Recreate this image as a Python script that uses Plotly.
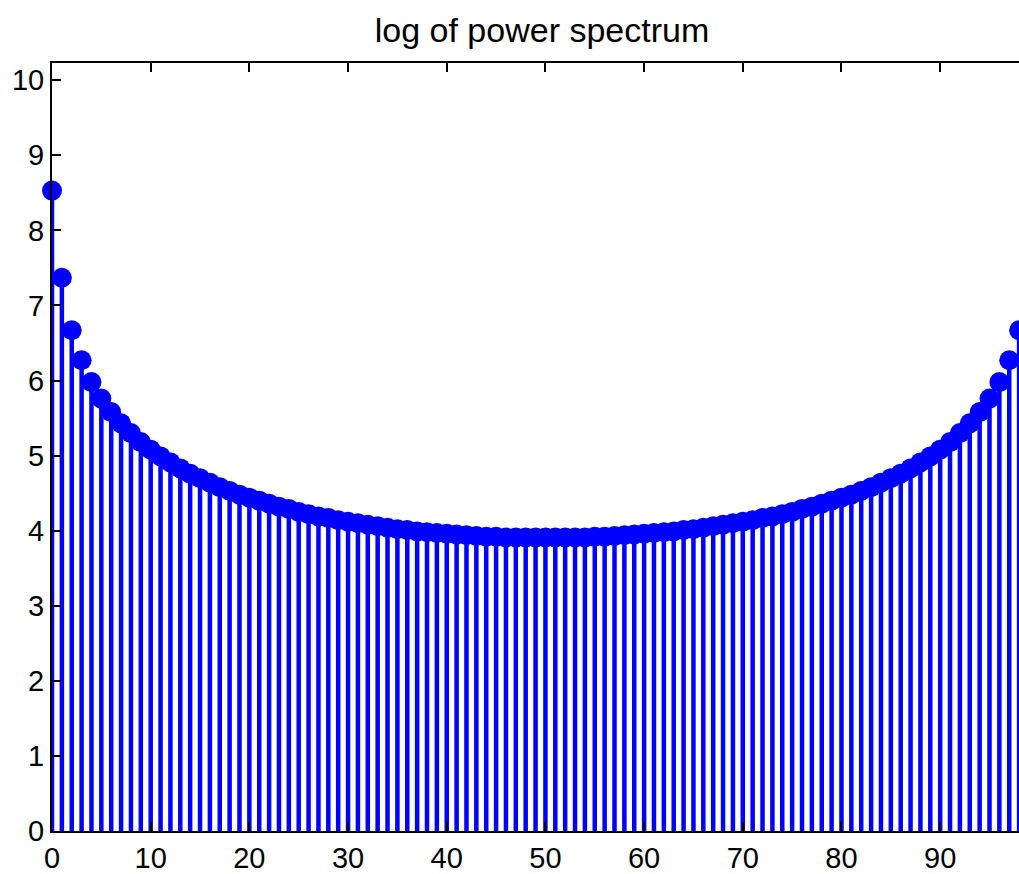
import plotly.graph_objects as go

# frequency bins and log power values
freq_bins = list(range(100))
log_power = [
    8.53, 7.37, 6.67, 6.27, 5.98, 5.76, 5.58, 5.43, 5.30, 5.18,
    5.08, 4.99, 4.91, 4.83, 4.76, 4.70, 4.64, 4.58, 4.53, 4.48,
    4.44, 4.40, 4.36, 4.32, 4.29, 4.25, 4.22, 4.19, 4.17, 4.14,
    4.12, 4.10, 4.08, 4.06, 4.04, 4.02, 4.01, 3.99, 3.98, 3.97,
    3.96, 3.95, 3.94, 3.93, 3.92, 3.92, 3.91, 3.91, 3.91, 3.91,
    3.91, 3.91, 3.91, 3.91, 3.91, 3.92, 3.92, 3.93, 3.94, 3.95,
    3.96, 3.97, 3.98, 3.99, 4.01, 4.02, 4.04, 4.06, 4.08, 4.10,
    4.12, 4.14, 4.17, 4.19, 4.22, 4.25, 4.29, 4.32, 4.36, 4.40,
    4.44, 4.48, 4.53, 4.58, 4.64, 4.70, 4.76, 4.83, 4.91, 4.99,
    5.08, 5.18, 5.30, 5.43, 5.58, 5.76, 5.98, 6.27, 6.67, 7.37,
]
x_ticks = [0, 10, 20, 30, 40, 50, 60, 70, 80, 90]
y_ticks = [0, 1, 2, 3, 4, 5, 6, 7, 8, 9, 10]

fig = go.Figure()
# stem plot: stems via one-sided error bars, heads as markers
fig.add_trace(go.Scatter(
    x=freq_bins, y=log_power,
    mode="markers",
    marker=dict(color="#0000FF", size=20, line=dict(width=0)),
    error_y=dict(type="data", symmetric=False, array=[0] * len(log_power),
                 arrayminus=log_power, color="#0000FF", thickness=4.5, width=0),
    cliponaxis=False,
    showlegend=False,
))

# figure is a bit wider than the window so the right spine falls off-page,
# like the cropped original
fig.update_layout(
    width=1030, height=874,
    paper_bgcolor="white", plot_bgcolor="white",
    margin=dict(l=52, r=0, t=63, b=40),
    font=dict(family="Liberation Sans, Arial, sans-serif", size=29, color="black"),
    title=dict(text="log of power spectrum", x=542 / 1030, xanchor="center",
               y=1 - 30 / 874, yanchor="middle", yref="container",
               font=dict(size=34, color="black")),
)
fig.update_xaxes(
    range=[0, 98.9], tickvals=x_ticks, ticks="inside", ticklen=9, tickwidth=1.5,
    tickcolor="black", showline=True, linecolor="black", linewidth=2,
    mirror="ticks", showgrid=False, zeroline=False,
)
fig.update_yaxes(
    range=[0, 10.23], tickvals=y_ticks, ticks="inside", ticklen=9, tickwidth=1.5,
    tickcolor="black", showline=True, linecolor="black", linewidth=2,
    mirror="ticks", showgrid=False, zeroline=False,
)

# drop the page's default body margin so the figure sits at the top-left corner
fig.write_html("out.html", config={"displayModeBar": False},
               post_script="document.body.style.margin='0';document.body.style.overflow='hidden';")
